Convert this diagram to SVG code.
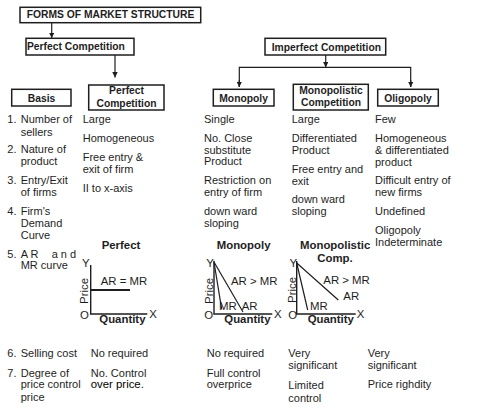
<svg xmlns="http://www.w3.org/2000/svg" width="494" height="409" viewBox="0 0 494 409">
<style>
text{font-family:"Liberation Sans",Arial,sans-serif;fill:#1e1e1e}
.b{font-weight:bold;font-size:10.3px}
.t{font-size:11px}
.g{font-size:11.4px}
.gb{font-size:11.4px;font-weight:bold}
.box{fill:#fff;stroke:#1e1e1e;stroke-width:1.5}
.ln{stroke:#1e1e1e;stroke-width:1.2;fill:none}
.ax{stroke:#1e1e1e;stroke-width:1.4;fill:none}
.c{text-anchor:middle}
</style>
<defs>
<marker id="ah" viewBox="0 0 10 10" refX="10" refY="5" markerWidth="5.5" markerHeight="5.5" markerUnits="userSpaceOnUse" orient="auto"><path d="M0,0L10,5L0,10z" fill="#1e1e1e"/></marker>
</defs>
<rect width="494" height="409" fill="#fff"/>
<g id="connectors">
<line class="ln" x1="51.7" y1="22.7" x2="51.7" y2="38" marker-end="url(#ah)"/>
<line class="ln" x1="115" y1="55" x2="115" y2="77.5" marker-end="url(#ah)"/>
<line class="ln" x1="325.7" y1="55" x2="325.7" y2="67.3" marker-end="url(#ah)"/>
<polyline class="ln" points="239.3,87 239.3,67.3 410.7,67.3 410.7,87"/>
<line class="ln" x1="239.3" y1="80" x2="239.3" y2="87" marker-end="url(#ah)"/>
<line class="ln" x1="410.7" y1="80" x2="410.7" y2="87" marker-end="url(#ah)"/>
</g>
<g id="forms"><rect class="box" x="20" y="7.3" width="180.7" height="15.4"/><text class="b" x="26.7" y="18.2">FORMS OF MARKET STRUCTURE</text></g>
<g id="perfect-competition"><rect class="box" x="26" y="38.3" width="108" height="16.7"/><text class="b" x="27" y="50.2">Perfect Competition</text></g>
<g id="imperfect-competition"><rect class="box" x="265" y="38.3" width="120.7" height="16.7"/><text class="b" x="271.7" y="50.5">Imperfect Competition</text></g>
<g id="basis"><rect class="box" x="11.7" y="89.3" width="59.3" height="16.7"/><text class="b c" x="41.5" y="101.5">Basis</text></g>
<g id="perfect-col"><rect class="box" x="88.7" y="85" width="75.3" height="25"/><text class="b c" x="126.5" y="94">Perfect</text><text class="b c" x="126.5" y="106.5">Competition</text></g>
<g id="monopoly"><rect class="box" x="213.3" y="89.3" width="60.7" height="16.7"/><text class="b c" x="243.6" y="101.5">Monopoly</text></g>
<g id="monopolistic"><rect class="box" x="293.3" y="84.3" width="75" height="25.7"/><text class="b c" x="331" y="94">Monopolistic</text><text class="b c" x="331" y="105.8">Competition</text></g>
<g id="oligopoly"><rect class="box" x="377.7" y="89.3" width="60.6" height="16.7"/><text class="b c" x="408" y="101.5">Oligopoly</text></g>

<g id="basis-rows" class="t">
<text class="t" x="7.3" y="123.3">1.<tspan x="20.7">Number of</tspan></text>
<text class="t" x="20.7" y="135.7">sellers</text>
<text class="t" x="7.3" y="153.3">2.<tspan x="20.7">Nature of</tspan></text>
<text class="t" x="20.7" y="165.3">product</text>
<text class="t" x="7.3" y="184">3.<tspan x="20.7">Entry/Exit</tspan></text>
<text class="t" x="20.7" y="196">of firms</text>
<text class="t" x="7.3" y="215">4.<tspan x="20.7">Firm's</tspan></text>
<text class="t" x="20.7" y="227.3">Demand</text>
<text class="t" x="20.7" y="239.3">Curve</text>
<text class="t" x="7.3" y="258.3">5.<tspan x="20.7">A R</tspan><tspan x="51.7">a n d</tspan></text>
<text class="t" x="20.7" y="269.3">MR curve</text>
<text class="t" x="7.3" y="356.7">6.<tspan x="20.7">Selling cost</tspan></text>
<text class="t" x="7.3" y="376.7">7.<tspan x="20.7">Degree of</tspan></text>
<text class="t" x="20.7" y="388.3">price control</text>
<text class="t" x="20.7" y="400.5">price</text>
</g>

<g id="perfect-rows">
<text class="t" x="82.7" y="123.3">Large</text>
<text class="t" x="82.7" y="141.7">Homogeneous</text>
<text class="t" x="82.7" y="160.7">Free entry &amp;</text>
<text class="t" x="82.7" y="172.7">exit of firm</text>
<text class="t" x="82.7" y="191.7">II to x-axis</text>
<text class="t" x="90.7" y="356.7">No required</text>
<text class="t" x="90.7" y="376.7">No. Control</text>
<text x="90.7" y="388.3" style="font-size:11.4px;fill:#000">over price.</text>
</g>

<g id="monopoly-rows">
<text class="t" x="204" y="123.3">Single</text>
<text class="t" x="204" y="141.7">No. Close</text>
<text class="t" x="204" y="153.7">substitute</text>
<text class="t" x="204" y="165.3">Product</text>
<text class="t" x="204" y="184">Restriction on</text>
<text class="t" x="204" y="196">entry of firm</text>
<text class="t" x="204" y="215">down ward</text>
<text class="t" x="204" y="227.3">sloping</text>
<text class="t" x="206.7" y="356.7">No required</text>
<text class="t" x="206.7" y="376.7">Full control</text>
<text class="t" x="206.7" y="388.3">overprice</text>
</g>

<g id="monopolistic-rows">
<text class="t" x="291.7" y="123.3">Large</text>
<text class="t" x="291.7" y="141.7">Differentiated</text>
<text class="t" x="291.7" y="153.7">Product</text>
<text class="t" x="291.7" y="172.7">Free entry and</text>
<text class="t" x="291.7" y="184.7">exit</text>
<text class="t" x="291.7" y="203.3">down ward</text>
<text class="t" x="291.7" y="215.3">sloping</text>
<text class="t" x="288.3" y="356.7">Very</text>
<text class="t" x="288.3" y="369">significant</text>
<text class="t" x="288.3" y="389.3">Limited</text>
<text class="t" x="288.3" y="401.5">control</text>
</g>

<g id="oligopoly-rows">
<text class="t" x="375" y="123.3">Few</text>
<text class="t" x="375" y="141.7">Homogeneous</text>
<text class="t" x="375" y="153.7">&amp; differentiated</text>
<text class="t" x="375" y="165.7">product</text>
<text class="t" x="375" y="184">Difficult entry of</text>
<text class="t" x="375" y="196">new firms</text>
<text class="t" x="375" y="215">Undefined</text>
<text class="t" x="375" y="234">Oligopoly</text>
<text class="t" x="375" y="245.7">Indeterminate</text>
<text class="t" x="367.7" y="356.7">Very</text>
<text class="t" x="367.7" y="369">significant</text>
<text class="t" x="367.7" y="388.3">Price righdity</text>
</g>

<g id="graph-perfect">
<text class="gb c" x="121" y="249">Perfect</text>
<polyline class="ax" points="90.7,265 90.7,314 147.3,314"/>
<line x1="90.7" y1="290" x2="130" y2="290" stroke="#1e1e1e" stroke-width="2"/>
<text class="g" x="100.7" y="285">AR = MR</text>
<text class="g" x="82" y="267.3">Y</text>
<text class="g" x="80" y="319.3">O</text>
<text class="g" x="149.3" y="318.3">X</text>
<text class="gb" x="99.3" y="323.3">Quantity</text>
<text class="g c" transform="translate(88.3,291) rotate(-90)">Price</text>
</g>

<g id="graph-monopoly">
<text class="gb" x="216.7" y="249">Monopoly</text>
<polyline class="ax" points="214,260.7 214,314 272.3,314"/>
<line class="ln" x1="214" y1="262" x2="221.7" y2="309.3"/>
<line class="ln" x1="214" y1="262" x2="243" y2="312"/>
<text class="g" x="231" y="285">AR &gt; MR</text>
<text class="g" x="219" y="310">MR</text>
<text class="g" x="241.7" y="310">AR</text>
<text class="g" x="206.3" y="267.3">Y</text>
<text class="g" x="204.3" y="319.3">O</text>
<text class="g" x="274" y="318.3">X</text>
<text class="gb" x="224.3" y="323.3">Quantity</text>
<text class="g c" transform="translate(212.5,291) rotate(-90)">Price</text>
</g>

<g id="graph-monopolistic">
<text class="gb" x="300" y="249">Monopolistic</text>
<text class="gb" x="317.3" y="261.7">Comp.</text>
<polyline class="ax" points="296.7,261 296.7,314 355.7,314"/>
<line class="ln" x1="296.7" y1="263" x2="307.7" y2="310"/>
<line class="ln" x1="296.7" y1="263" x2="338.3" y2="300"/>
<text class="g" x="323.3" y="284.3">AR &gt; MR</text>
<text class="g" x="343.3" y="300">AR</text>
<text class="g" x="310" y="310">MR</text>
<text class="g" x="289.5" y="266.7">Y</text>
<text class="g" x="288.3" y="319.3">O</text>
<text class="g" x="356.7" y="318.3">X</text>
<text class="gb" x="307.7" y="323.3">Quantity</text>
<text class="g c" transform="translate(295.5,290) rotate(-90)">Price</text>
</g>
</svg>
